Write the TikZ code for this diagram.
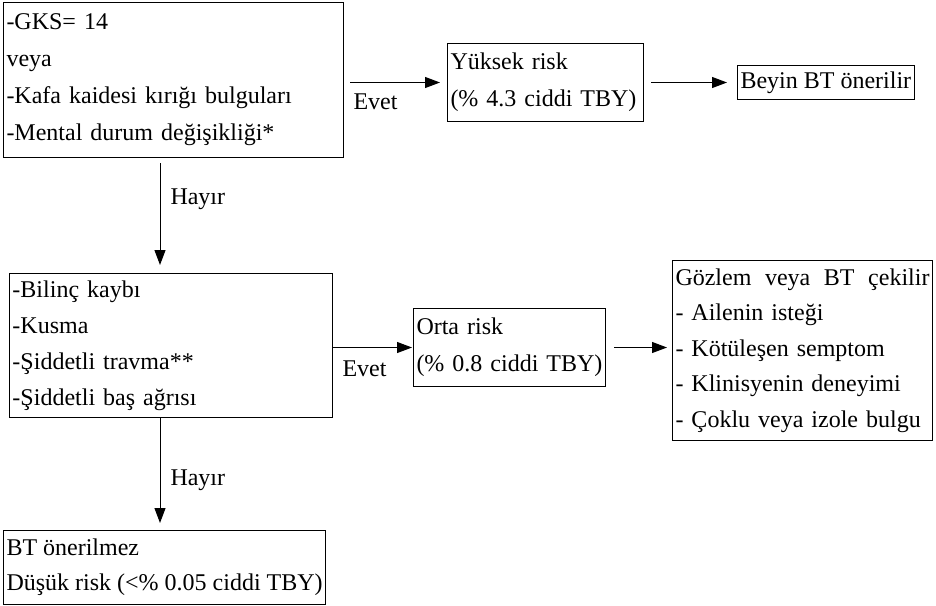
\documentclass[tikz,border=0pt]{standalone}
\usepackage{fontspec}
\setmainfont{Liberation Serif}
\usetikzlibrary{arrows.meta,positioning,calc}

\tikzset{
  kutu/.style={draw, line width=1pt, inner xsep=3pt, inner ysep=2pt, anchor=north west,
               align=left, font=\fontsize{24}{37}\selectfont},
  ok/.style={line width=1pt, -{Triangle[length=15pt,width=11pt]}},
  etiket/.style={inner sep=0pt, font=\fontsize{24}{29}\selectfont}
}

\begin{document}
\begin{tikzpicture}[x=1pt,y=-1pt]
    \useasboundingbox (0,0) rectangle (936,605);
    \node[kutu, text width=334pt, minimum height=155pt] (gks) at (3,2) {
      -GKS= 14\\veya\\-Kafa kaidesi kırığı bulguları\\-Mental durum değişikliği*};
    \node[kutu, text width=190pt, minimum height=78pt] (yuksek) at (447,43) {
      Yüksek risk\\(\% 4.3 ciddi TBY)};
    \node[kutu, minimum height=34pt] (beyin) at (737,65) {Beyin BT önerilir};
    \node[kutu, text width=317pt, minimum height=144pt, font=\fontsize{24}{36}\selectfont] (belirti) at (9,273) {
      -Bilinç kaybı\\-Kusma\\-Şiddetli travma**\\-Şiddetli baş ağrısı};
    \node[kutu, text width=186pt, minimum height=78pt] (orta) at (413,308) {
      Orta risk\\(\% 0.8 ciddi TBY)};
    \node[kutu, text width=254pt, minimum height=180pt, font=\fontsize{24}{35.5}\selectfont] (gozlem) at (672,260) {
      Gözlem\hfill veya\hfill BT\hfill çekilir\\- Ailenin isteği\\- Kötüleşen semptom\\- Klinisyenin deneyimi\\- Çoklu veya izole bulgu};
    \node[kutu, minimum height=74pt, font=\fontsize{24}{35}\selectfont] (dusuk) at (3,530) {
      BT önerilmez\\Düşük risk (<\% 0.05 ciddi TBY)};

    \coordinate (okx) at (160,0);
    \draw[ok, shorten <=6pt, shorten >=7pt] (gks.east |- yuksek.west) -- (yuksek.west)
      node[etiket, pos=0, anchor=base west, xshift=9pt, yshift=-27pt] {Evet};
    \draw[ok, shorten <=7pt, shorten >=10pt] (yuksek.east) -- (beyin.west);
    \draw[ok, shorten <=5pt, shorten >=8pt] (gks.south -| okx) -- (belirti.north -| okx)
      node[etiket, pos=0.4, anchor=base west, xshift=10pt] {Hayır};
    \draw[ok, shorten >=1pt] (belirti.east |- orta.west) -- (orta.west)
      node[etiket, pos=0, anchor=base west, xshift=9pt, yshift=-29pt] {Evet};
    \draw[ok, shorten <=8pt, shorten >=5pt] (orta.east) -- (gozlem.west |- orta.east);
    \draw[ok, shorten >=7pt] (belirti.south -| okx) -- (dusuk.north -| okx)
      node[etiket, pos=0.6, anchor=base west, xshift=10pt] {Hayır};
\end{tikzpicture}
\end{document}
